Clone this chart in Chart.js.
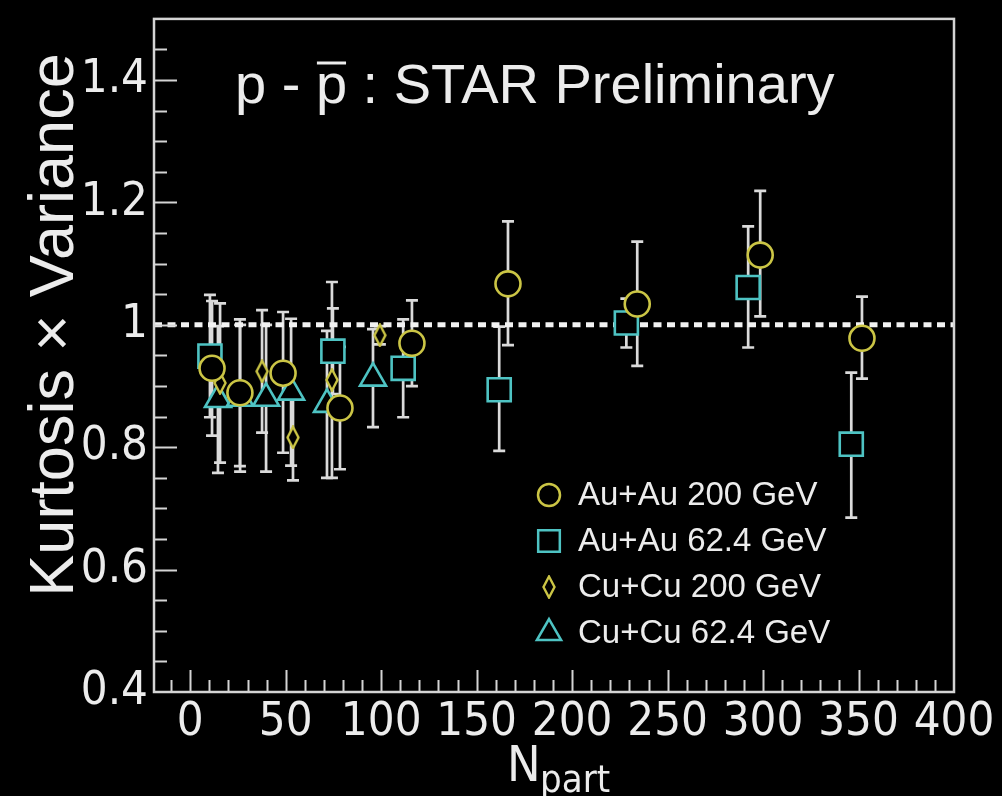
<!DOCTYPE html>
<html>
<head>
<meta charset="utf-8">
<script src="https://cdn.jsdelivr.net/npm/chart.js@4.4.1/dist/chart.umd.min.js"></script>
<style>
  html, body { margin: 0; padding: 0; background: #000; }
  canvas { display: block; }
</style>
</head>
<body>
<canvas id="Chart" width="1002" height="796"></canvas>
<script>
// Au+Au 200 GeV (yellow circles)
const auau200Npart = [11.4, 26.0, 48.6, 78.4, 116.1, 166.4, 234.1, 298.5, 351.8];
const auau200Kv = [0.929, 0.889, 0.921, 0.864, 0.970, 1.067, 1.034, 1.114, 0.978];
const auau200ErrUp = [0.11, 0.12, 0.10, 0.10, 0.07, 0.102, 0.102, 0.105, 0.068];
const auau200ErrDown = [0.11, 0.12, 0.13, 0.10, 0.07, 0.100, 0.101, 0.100, 0.066];

// Au+Au 62.4 GeV (cyan squares)
const auau62Npart = [10.3, 74.7, 111.5, 161.8, 228.4, 292.2, 346.2];
const auau62Kv = [0.949, 0.957, 0.929, 0.894, 1.003, 1.061, 0.805];
const auau62ErrUp = [0.10, 0.07, 0.08, 0.103, 0.04, 0.10, 0.117];
const auau62ErrDown = [0.10, 0.07, 0.08, 0.100, 0.04, 0.098, 0.12];

// Cu+Cu 200 GeV (yellow diamonds)
const cucu200Npart = [15.6, 37.6, 53.8, 74.2, 99.3];
const cucu200Kv = [0.905, 0.924, 0.816, 0.910, 0.983];
const cucu200ErrUp = [0.13, 0.10, 0.07, 0.16, 0.015];
const cucu200ErrDown = [0.13, 0.10, 0.07, 0.16, 0.015];

// Cu+Cu 62.4 GeV (cyan triangles)
const cucu62Npart = [14.5, 26.1, 39.7, 52.8, 71.6, 95.7];
const cucu62Kv = [0.878, 0.880, 0.880, 0.890, 0.870, 0.913];
const cucu62ErrUp = [0.12, 0.12, 0.12, 0.12, 0.12, 0.08];
const cucu62ErrDown = [0.12, 0.12, 0.12, 0.12, 0.12, 0.08];

const legendLabels = ["Au+Au 200 GeV", "Au+Au 62.4 GeV", "Cu+Cu 200 GeV", "Cu+Cu 62.4 GeV"];
const xTicks = [0, 50, 100, 150, 200, 250, 300, 350, 400];
const xTickLabels = ["0", "50", "100", "150", "200", "250", "300", "350", "400"];
const yTicks = [0.4, 0.6, 0.8, 1.0, 1.2, 1.4];
const yTickLabels = ["0.4", "0.6", "0.8", "1", "1.2", "1.4"];
const referenceLevel = [1, 1];
const referenceRange = [-19, 400];

const YELLOW = "#cbc545";
const CYAN = "#4ec3c3";
const FG = "#ececec";
const NARROW = '"Liberation Sans Narrow", "DejaVu Sans Condensed", "Liberation Sans", sans-serif';
const REGULAR = '"Liberation Sans", Arial, sans-serif';

// narrow diamond marker for Cu+Cu 200
function makeDiamond() {
  const c = document.createElement("canvas");
  c.width = 14;
  c.height = 24;
  const g = c.getContext("2d");
  g.beginPath();
  g.moveTo(7, 1.5);
  g.lineTo(12.5, 12);
  g.lineTo(7, 22.5);
  g.lineTo(1.5, 12);
  g.closePath();
  g.fillStyle = "#000";
  g.fill();
  g.lineWidth = 2.4;
  g.strokeStyle = YELLOW;
  g.stroke();
  return c;
}
const diamond = makeDiamond();

const toPoints = (xs, ys) => xs.map((x, i) => ({ x: x, y: ys[i] }));

const series = [
  { label: legendLabels[0], npart: auau200Npart, kv: auau200Kv, up: auau200ErrUp, down: auau200ErrDown, color: YELLOW, style: "circle", radius: 12.5 },
  { label: legendLabels[1], npart: auau62Npart, kv: auau62Kv, up: auau62ErrUp, down: auau62ErrDown, color: CYAN, style: "rect", radius: 16.3 },
  { label: legendLabels[2], npart: cucu200Npart, kv: cucu200Kv, up: cucu200ErrUp, down: cucu200ErrDown, color: YELLOW, style: diamond, radius: 12 },
  { label: legendLabels[3], npart: cucu62Npart, kv: cucu62Kv, up: cucu62ErrUp, down: cucu62ErrDown, color: CYAN, style: "triangle", radius: 15 },
];

const datasets = series.map((s) => ({
  type: "scatter",
  label: s.label,
  data: toPoints(s.npart, s.kv),
  errUp: s.up,
  errDown: s.down,
  pointStyle: s.style,
  pointRadius: s.radius,
  pointBorderWidth: 2.6,
  pointBorderColor: s.color,
  pointBackgroundColor: "#000",
}));

// dotted line at 1
datasets.push({
  type: "line",
  label: "ref",
  data: toPoints(referenceRange, referenceLevel),
  borderColor: "#f2f2f2",
  borderWidth: 5,
  borderDash: [8, 5.5],
  pointRadius: 0,
});

const errorBars = {
  id: "errorBars",
  beforeDatasetsDraw(chart) {
    const { ctx, scales } = chart;
    ctx.save();
    ctx.strokeStyle = "#dadada";
    ctx.lineWidth = 2.7;
    chart.data.datasets.forEach((ds) => {
      if (!ds.errUp) return;
      ds.data.forEach((p, i) => {
        const px = scales.x.getPixelForValue(p.x);
        const top = scales.y.getPixelForValue(p.y + ds.errUp[i]);
        const bot = scales.y.getPixelForValue(p.y - ds.errDown[i]);
        ctx.beginPath();
        ctx.moveTo(px, top);
        ctx.lineTo(px, bot);
        ctx.moveTo(px - 6, top);
        ctx.lineTo(px + 6, top);
        ctx.moveTo(px - 6, bot);
        ctx.lineTo(px + 6, bot);
        ctx.stroke();
      });
    });
    ctx.restore();
  },
};

// frame and inner ticks, ROOT style
const frame = {
  id: "frame",
  afterDatasetsDraw(chart) {
    const { ctx, chartArea: a, scales } = chart;
    ctx.save();
    ctx.strokeStyle = "#d4d4d4";
    ctx.lineWidth = 2;
    ctx.beginPath();
    for (let v = -10; v <= 390; v += 10) {
      const px = Math.round(scales.x.getPixelForValue(v)) + 0.5;
      const len = v % 50 === 0 ? 22 : 12;
      ctx.moveTo(px, a.bottom);
      ctx.lineTo(px, a.bottom - len);
    }
    for (let k = 9; k <= 29; k++) {
      const v = k * 0.05;
      const py = Math.round(scales.y.getPixelForValue(v)) + 0.5;
      const len = k % 4 === 0 ? 23 : 13;
      ctx.moveTo(a.left, py);
      ctx.lineTo(a.left + len, py);
    }
    ctx.stroke();
    ctx.lineWidth = 2.5;
    ctx.strokeRect(a.left, a.top, a.right - a.left, a.bottom - a.top);
    ctx.restore();
  },
};

const texts = {
  id: "texts",
  afterDraw(chart) {
    const { ctx } = chart;
    ctx.save();
    ctx.fillStyle = FG;
    ctx.strokeStyle = FG;

    // title
    ctx.font = "56px " + REGULAR;
    ctx.textBaseline = "alphabetic";
    ctx.textAlign = "left";
    const tx = 235, ty = 103;
    ctx.fillText("p - p : STAR Preliminary", tx, ty);
    const before = ctx.measureText("p - ").width;
    const pw = ctx.measureText("p").width;
    ctx.lineWidth = 3;
    ctx.beginPath();
    ctx.moveTo(tx + before + 1, ty - 40);
    ctx.lineTo(tx + before + pw - 1, ty - 40);
    ctx.stroke();

    // x title
    ctx.font = "50px " + NARROW;
    ctx.fillText("N", 507, 781);
    ctx.font = "38px " + NARROW;
    ctx.fillText("part", 540, 792);

    // y title
    ctx.save();
    ctx.translate(73, 325);
    ctx.rotate(-Math.PI / 2);
    ctx.textAlign = "center";
    ctx.font = "63px " + REGULAR;
    ctx.fillText("Kurtosis \u00d7 Variance", 0, 0);
    ctx.restore();

    // legend
    const rows = [495, 541, 587, 633];
    chart.data.datasets.slice(0, 4).forEach((ds, i) => {
      ctx.save();
      ctx.strokeStyle = ds.pointBorderColor;
      ctx.fillStyle = "#000";
      ctx.lineWidth = 2.5;
      Chart.helpers.drawPoint(ctx, {
        pointStyle: ds.pointStyle,
        radius: ds.pointStyle === "circle" ? 11 : ds.pointRadius - 1,
        rotation: 0,
        borderWidth: 2.5,
      }, 549, rows[i]);
      ctx.restore();
      ctx.font = "33px " + REGULAR;
      ctx.textBaseline = "middle";
      ctx.fillText(ds.label, 578, rows[i] + 1);
    });
    ctx.restore();
  },
};

const tickFont = { family: NARROW, size: 47 };

new Chart(document.getElementById("Chart").getContext("2d"), {
  data: { datasets: datasets },
  options: {
    responsive: false,
    animation: false,
    layout: { padding: { left: 0, top: 13, right: 48, bottom: 0 } },
    plugins: {
      legend: { display: false },
      tooltip: { enabled: false },
    },
    scales: {
      x: {
        type: "linear",
        min: referenceRange[0],
        max: referenceRange[1],
        afterBuildTicks: (s) => { s.ticks = xTicks.map((v) => ({ value: v })); },
        afterFit: (s) => {
          s.height = 104;
          s.paddingLeft = 0;
          s.paddingRight = 0;
        },
        grid: { display: false, drawTicks: false },
        border: { display: false },
        ticks: {
          color: FG,
          font: tickFont,
          padding: 3,
          autoSkip: false,
          maxRotation: 0,
          minRotation: 0,
          callback: (v, i) => xTickLabels[i],
        },
      },
      y: {
        type: "linear",
        min: 0.4,
        max: 1.5,
        afterBuildTicks: (s) => { s.ticks = yTicks.map((v) => ({ value: v })); },
        afterFit: (s) => {
          s.width = 154;
          s.paddingTop = 0;
          s.paddingBottom = 0;
        },
        grid: { display: false, drawTicks: false },
        border: { display: false },
        ticks: {
          color: FG,
          font: tickFont,
          padding: 6,
          callback: (v, i) => yTickLabels[i],
        },
      },
    },
  },
  plugins: [errorBars, frame, texts],
});
</script>
</body>
</html>
